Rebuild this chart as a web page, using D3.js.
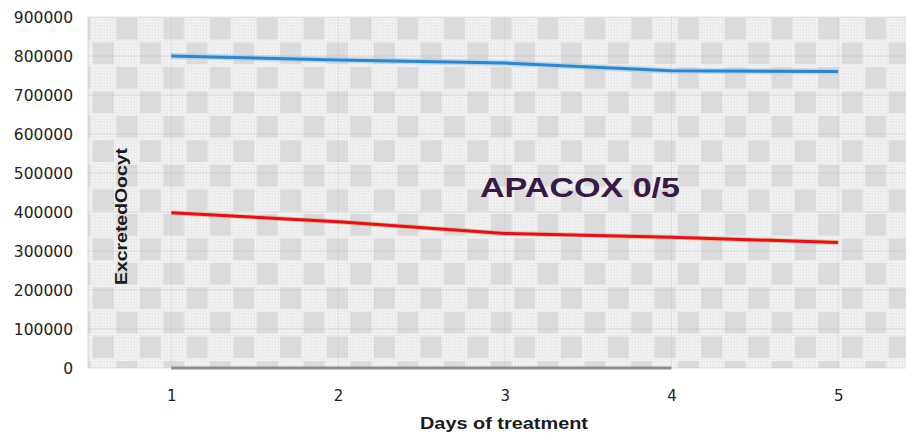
<!DOCTYPE html>
<html><head><meta charset="utf-8">
<script src="https://cdn.jsdelivr.net/npm/d3@7"></script>
<style>html,body{margin:0;padding:0;background:#fff;}svg{display:block;}</style>
</head><body>
<script>
const days = [1, 2, 3, 4, 5];
const seriesBlue = [800000, 790000, 782000, 762000, 760000];
const seriesRed = [398000, 375000, 345000, 335000, 322000];
const seriesGrey = [0, 0, 0, 0, null];
const yTicks = [0, 100000, 200000, 300000, 400000, 500000, 600000, 700000, 800000, 900000];
const xTitle = "Days of treatment";
const yTitle = "ExcretedOocyt";
const annotation = "APACOX 0/5";

(function () {
const W = 906, H = 435;
const pLeft = 88, pRight = 921.5, pTop = 17, pBottom = 368;

const svg = d3.select("body").append("svg").attr("width", W).attr("height", H);
const defs = svg.append("defs");

// fine dot texture (light dots on light grey)
const dots = defs.append("pattern").attr("id", "dots").attr("patternUnits", "userSpaceOnUse")
  .attr("width", 3).attr("height", 3);
dots.append("rect").attr("width", 3).attr("height", 3).attr("fill", "#ebeaec");
dots.append("rect").attr("width", 1.5).attr("height", 1.5).attr("fill", "#f8f8f9");

// checkerboard
const cw = 23.4, ch = 24.5;
const chk = defs.append("pattern").attr("id", "chk").attr("patternUnits", "userSpaceOnUse")
  .attr("x", 92).attr("y", pTop).attr("width", cw * 2).attr("height", ch * 2);
chk.append("rect").attr("x", cw + 1).attr("y", 1).attr("width", cw - 2.5).attr("height", ch - 3).attr("fill", "#dbdadc");
chk.append("rect").attr("x", 1).attr("y", ch + 1).attr("width", cw - 2.5).attr("height", ch - 3).attr("fill", "#dbdadc");

const x = d3.scalePoint().domain(days).range([pLeft, pRight]).padding(0.5);
const y = d3.scaleLinear().domain([0, 900000]).range([pBottom, pTop]);

const plotW = W - pLeft;
svg.append("rect").attr("x", pLeft).attr("y", pTop).attr("width", plotW).attr("height", pBottom - pTop).attr("fill", "url(#dots)");
svg.append("rect").attr("x", pLeft).attr("y", pTop).attr("width", plotW).attr("height", pBottom - pTop).attr("fill", "url(#chk)");

// faint gridlines
const grid = svg.append("g").attr("stroke", "#bdbcbd").attr("stroke-width", 1);
grid.selectAll("line.h").data(yTicks).join("line").attr("class", "h").attr("stroke-opacity", 0.4)
  .attr("x1", pLeft).attr("x2", W).attr("y1", d => y(d)).attr("y2", d => y(d));
grid.selectAll("line.v").data(days).join("line").attr("class", "v").attr("stroke-opacity", 0.25)
  .attr("x1", d => x(d)).attr("x2", d => x(d)).attr("y1", pTop).attr("y2", pBottom);
svg.append("line").attr("x1", pLeft).attr("x2", pLeft).attr("y1", pTop).attr("y2", pBottom).attr("stroke", "#d6d6d6");

// y axis labels
const yAxis = d3.axisLeft(y).tickValues(yTicks).tickSize(0).tickPadding(0).tickFormat(d3.format("d"));
const gy = svg.append("g").attr("transform", `translate(${pLeft - 15},0)`).call(yAxis);
gy.select(".domain").remove();
gy.selectAll("text").attr("font-family", "DejaVu Sans, sans-serif").attr("font-size", 15.5)
  .attr("fill", "#222").attr("dy", "0.36em");

// x axis labels
const xAxis = d3.axisBottom(x).tickSize(0).tickPadding(0);
const gx = svg.append("g").attr("transform", `translate(0,${pBottom + 28})`).call(xAxis);
gx.select(".domain").remove();
gx.selectAll("text").attr("font-family", "DejaVu Sans, sans-serif").attr("font-size", 15)
  .attr("fill", "#222").attr("dy", "0.3em");

// lines
const line = d3.line().defined(d => d.v != null).x(d => x(d.day)).y(d => y(d.v));
const toPts = arr => days.map((d, i) => ({day: d, v: arr[i]}));

svg.append("path").datum(toPts(seriesGrey)).attr("d", line).attr("fill", "none")
  .attr("stroke", "#8c8c8c").attr("stroke-width", 3);

svg.append("path").datum(toPts(seriesBlue)).attr("d", line).attr("fill", "none")
  .attr("stroke", "#9fd0f2").attr("stroke-width", 6).attr("stroke-opacity", 0.7);
svg.append("path").datum(toPts(seriesBlue)).attr("d", line).attr("fill", "none")
  .attr("stroke", "#3585c6").attr("stroke-width", 3);

svg.append("path").datum(toPts(seriesRed)).attr("d", line).attr("fill", "none")
  .attr("stroke", "#f4a070").attr("stroke-width", 5).attr("stroke-opacity", 0.6);
svg.append("path").datum(toPts(seriesRed)).attr("d", line).attr("fill", "none")
  .attr("stroke", "#d9141c").attr("stroke-width", 3);

// annotation
svg.append("text").attr("x", 480).attr("y", 197).text(annotation)
  .attr("font-family", "Liberation Sans, Arial, sans-serif").attr("font-weight", "bold")
  .attr("font-size", 28).attr("fill", "#3a1846").attr("textLength", 200).attr("lengthAdjust", "spacingAndGlyphs");

// axis titles
svg.append("text").attr("x", 420).attr("y", 429).text(xTitle)
  .attr("font-family", "Liberation Sans, Arial, sans-serif").attr("font-weight", "bold")
  .attr("font-size", 17).attr("fill", "#1a1a1a").attr("textLength", 168).attr("lengthAdjust", "spacingAndGlyphs");

svg.append("text").attr("transform", "translate(127,285) rotate(-90)").text(yTitle)
  .attr("font-family", "Liberation Sans, Arial, sans-serif").attr("font-weight", "bold")
  .attr("font-size", 16).attr("fill", "#1a1a1a").attr("textLength", 137).attr("lengthAdjust", "spacingAndGlyphs");
})();
</script>
</body></html>
